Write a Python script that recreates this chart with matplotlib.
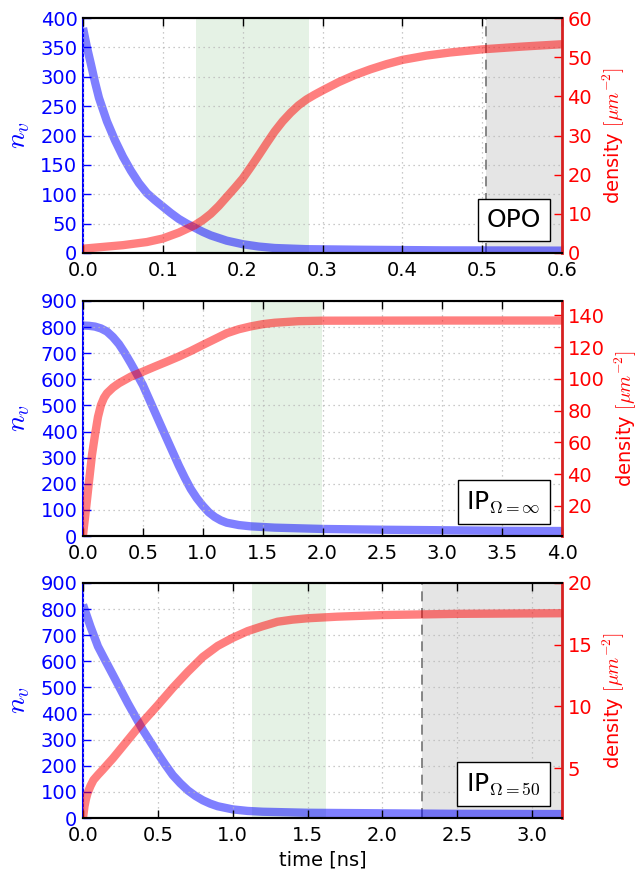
import matplotlib
matplotlib.use("Agg")
import matplotlib.pyplot as plt
from matplotlib.offsetbox import AnchoredText
import numpy as np

plt.rcParams['font.family'] = ['DejaVu Sans']
plt.rcParams['mathtext.fontset'] = 'cm'

# ---------------- data ----------------
# Panel 1: OPO
opo_blue_t = [0, 0.005, 0.01, 0.015, 0.02, 0.03, 0.04, 0.05, 0.06, 0.07, 0.08, 0.09,
              0.1, 0.11, 0.12, 0.13, 0.14, 0.15, 0.16, 0.18, 0.2, 0.22, 0.24, 0.28,
              0.35, 0.45, 0.6]
opo_blue = [383, 350, 321, 291, 264, 224, 192, 164, 140, 119, 102, 90,
            79, 68, 58, 50, 43, 36, 30, 21, 15, 11, 8.5, 6.5,
            5.5, 4.5, 4]
opo_red_t = [0, 0.05, 0.08, 0.1, 0.12, 0.14, 0.15, 0.16, 0.17, 0.18, 0.19, 0.2, 0.21,
             0.22, 0.23, 0.24, 0.25, 0.26, 0.27, 0.28, 0.29, 0.3, 0.32, 0.34, 0.36,
             0.38, 0.4, 0.43, 0.46, 0.5, 0.55, 0.6]
opo_red = [1.1, 2.0, 2.8, 3.7, 5.2, 7.1, 8.4, 10.0, 12.0, 14.3, 16.6, 19.0, 21.9,
           24.9, 28.0, 31.0, 33.6, 35.8, 37.7, 39.2, 40.4, 41.5, 43.6, 45.4, 46.9,
           48.2, 49.3, 50.4, 51.2, 52.0, 52.7, 53.3]

# Panel 2: IP Omega = inf
ipinf_blue_t = [0, 0.05, 0.1, 0.15, 0.2, 0.25, 0.3, 0.35, 0.4, 0.45, 0.5, 0.6, 0.7,
                0.8, 0.85, 0.9, 0.95, 1.0, 1.05, 1.1, 1.15, 1.2, 1.3, 1.4, 1.6, 2.0,
                2.5, 3.0, 3.5, 4.0]
ipinf_blue = [806, 805, 802, 795, 783, 762, 735, 700, 661, 620, 578, 475, 372,
              270, 223, 180, 145, 116, 91, 73, 60, 51, 42, 37, 32, 27,
              24, 22, 20, 19]
ipinf_red_t = [0, 0.025, 0.05, 0.075, 0.1, 0.125, 0.15, 0.175, 0.2, 0.25, 0.3, 0.4,
               0.5, 0.6, 0.7, 0.8, 0.9, 1.0, 1.1, 1.2, 1.3, 1.4, 1.5, 1.6, 1.8, 2.0,
               3.0, 4.0]
ipinf_red = [1.6, 18, 35.2, 52, 64.6, 76, 83.5, 88, 90.9, 94.5, 97.2, 101.4,
             104.5, 107.7, 110.8, 114, 117.5, 121.3, 125, 128.7, 131.2, 133, 134.4,
             135.3, 136.3, 136.6, 136.7, 136.7]

# Panel 3: IP Omega = 50
ip50_blue_t = [0, 0.025, 0.05, 0.1, 0.15, 0.2, 0.3, 0.4, 0.5, 0.55, 0.6, 0.65, 0.7,
               0.75, 0.8, 0.85, 0.9, 1.0, 1.1, 1.2, 1.5, 2.0, 2.5, 3.2]
ip50_blue = [817, 775, 733, 657, 602, 548, 439, 337, 247, 204, 164, 133, 106,
             85, 68, 55, 45, 33, 27, 24, 20, 18, 16, 15]
ip50_red_t = [0, 0.01, 0.02, 0.03, 0.05, 0.07, 0.1, 0.13, 0.2, 0.3, 0.4, 0.5, 0.6,
              0.7, 0.8, 0.9, 1.0, 1.1, 1.2, 1.3, 1.4, 1.5, 1.7, 2.0, 2.5, 3.2]
ip50_red = [0.95, 1.9, 2.5, 2.95, 3.55, 4.03, 4.45, 4.84, 5.79, 7.27, 8.75, 10.1, 11.5,
            12.8, 14.0, 14.9, 15.55, 16.1, 16.5, 16.86, 17.03, 17.14, 17.27, 17.4,
            17.5, 17.55]

labels = ['OPO', r'IP$_{\Omega=\infty}$', r'IP$_{\Omega=50}$']
xlims = [(0, 0.6), (0, 4.0), (0, 3.2)]
xstep = [0.1, 0.5, 0.5]
ylims_left = [(0, 400), (0, 900), (0, 900)]
ystep_left = [50, 100, 100]
ylims_right = [(0, 60), (1, 149), (0.95, 20)]
yticks_right = [[0, 10, 20, 30, 40, 50, 60], [20, 40, 60, 80, 100, 120, 140], [5, 10, 15, 20]]
green_spans = [(0.1415, 0.2827), (1.403, 1.996), (1.129, 1.623)]
grey_start = [0.505, None, 2.263]

blues = [(opo_blue_t, opo_blue), (ipinf_blue_t, ipinf_blue), (ip50_blue_t, ip50_blue)]
reds = [(opo_red_t, opo_red), (ipinf_red_t, ipinf_red), (ip50_red_t, ip50_red)]

# ---------------- figure ----------------
fig = plt.figure(figsize=(6.44, 8.69), dpi=100)
W, H = 644.0, 869.0
panels_px = [(18, 253), (301, 536), (583, 818)]
left_px, right_px = 83, 562

for i in range(3):
    top, bot = panels_px[i]
    ax = fig.add_axes([left_px / W, 1 - bot / H, (right_px - left_px) / W, (bot - top) / H])
    ax2 = ax.twinx()

    g0, g1 = green_spans[i]
    ax.axvspan(g0, g1, color='green', alpha=0.1, lw=0, zorder=0)
    if grey_start[i] is not None:
        ax.axvspan(grey_start[i], xlims[i][1], color='k', alpha=0.1, lw=0, zorder=0)
        ax.axvline(grey_start[i], color='0.45', ls='--', lw=1.2, dashes=(6, 4), zorder=1)

    bt, bv = blues[i]
    ax.plot(bt, bv, color='blue', alpha=0.5, lw=6, solid_capstyle='butt',
            solid_joinstyle='round', zorder=2)
    rt, rv = reds[i]
    ax2.plot(rt, rv, color='red', alpha=0.5, lw=6, solid_capstyle='butt',
             solid_joinstyle='round', zorder=2)

    ax.set_xlim(*xlims[i])
    ax.set_ylim(*ylims_left[i])
    ax2.set_ylim(*ylims_right[i])
    ax.set_xticks(np.arange(xlims[i][0], xlims[i][1] + 1e-9, xstep[i]))
    ax.set_yticks(np.arange(ylims_left[i][0], ylims_left[i][1] + 1e-9, ystep_left[i]))
    ax2.set_yticks(yticks_right[i])

    ax.grid(True, color='0.72', ls=(0, (1, 3)), lw=0.9)
    ax.set_axisbelow(False)

    for a in (ax, ax2):
        for s in a.spines.values():
            s.set_linewidth(1.5)
    ax.spines['left'].set_color('blue')
    ax.spines['right'].set_visible(False)
    ax2.spines['left'].set_visible(False)
    ax2.spines['right'].set_color('#d62020')
    ax2.spines['right'].set_linewidth(2)

    ax.tick_params(axis='x', direction='in', top=True, bottom=True, length=6, width=1,
                   labelsize=14, colors='black', pad=6)
    ax.tick_params(axis='y', direction='in', left=True, right=False, length=6, width=1,
                   labelsize=14, colors='blue', pad=4)
    ax2.tick_params(axis='y', direction='in', right=True, left=False, length=6, width=1,
                    labelsize=14, colors='red', pad=4)

    ax.set_ylabel(r'$n_v$', color='blue', fontsize=20, labelpad=6)
    ax2.set_ylabel(r'density $[\mu m^{-2}]$', color='red', fontsize=14, labelpad=6)

    at = AnchoredText(labels[i], loc='lower right', prop=dict(size=18), frameon=True,
                      pad=0.35, borderpad=0.5)
    at.patch.set_boxstyle('square,pad=0')
    at.patch.set_linewidth(1)
    ax2.add_artist(at)

    if i == 2:
        ax.set_xlabel('time [ns]', fontsize=14, labelpad=4)

fig.savefig('out.png', dpi=100, facecolor='white')
